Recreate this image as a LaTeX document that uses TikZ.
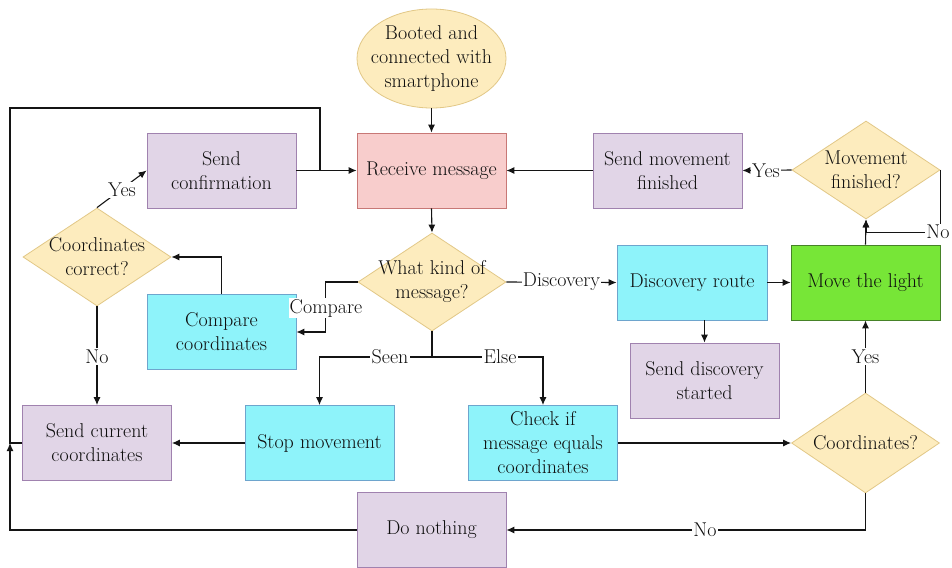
\documentclass[tikz,border=0pt]{standalone}
\usetikzlibrary{shapes.geometric,arrows.meta}
\definecolor{yelF}{RGB}{253,236,190}
\definecolor{yelD}{RGB}{226,200,135}
\definecolor{redF}{RGB}{248,205,204}
\definecolor{redD}{RGB}{200,120,118}
\definecolor{purF}{RGB}{225,213,231}
\definecolor{purD}{RGB}{160,130,175}
\definecolor{cyaF}{RGB}{142,243,250}
\definecolor{cyaD}{RGB}{110,165,205}
\definecolor{grnF}{RGB}{119,230,55}
\definecolor{grnD}{RGB}{70,130,40}
\definecolor{lineC}{RGB}{20,20,20}
\definecolor{txtC}{RGB}{15,15,15}
\begin{document}
\begin{tikzpicture}[x=1pt,y=-1pt,
  font=\fontsize{20}{24}\selectfont, text=txtC,
  box/.style={rectangle, minimum width=149pt, minimum height=75pt, inner sep=0pt, align=center, line width=0.8pt},
  purp/.style={box, fill=purF, draw=purD},
  cyan/.style={box, fill=cyaF, draw=cyaD},
  redb/.style={box, fill=redF, draw=redD},
  grnb/.style={box, fill=grnF, draw=grnD},
  dia/.style={diamond, minimum width=148pt, minimum height=98pt, inner sep=0pt, fill=yelF, draw=yelD, line width=0.8pt},
  ell/.style={ellipse, minimum width=149pt, minimum height=99pt, inner sep=0pt, fill=yelF, draw=yelD, line width=0.8pt},
  txt/.style={align=center, inner sep=0pt},
  arr/.style={-{Latex[length=8pt,width=7pt]}, line width=1.1pt, draw=lineC},
  ln/.style={line width=1.1pt, draw=lineC},
  lab/.style={fill=white, inner sep=1.2pt}]
\useasboundingbox[fill=white] (0,0) rectangle (952,567);

% shapes
\node[ell] (boot) at (431.5,58.5) {};
\node[txt] (boott) at (boot) {Booted and\\connected with\\smartphone};
\node[redb] (rm) at (431.5,170.5) {Receive message};
\node[purp] (sc) at (221.5,170.5) {Send\\confirmation};
\node[purp] (smf) at (667.5,170.5) {Send movement\\finished};
\node[dia] (mf) at (866,170) {};
\node[txt] (mft) at (mf) {Movement\\finished?};
\node[dia] (cok) at (97,257) {};
\node[txt] (cokt) at (cok) {Coordinates\\correct?};
\node[dia] (wk) at (432,282) {};
\node[txt] (wkt) at (wk) {What kind of\\message?};
\node[cyan, minimum width=150pt] (dr) at (692,282.5) {Discovery route};
\node[grnb] (ml) at (865.5,282.5) {Move the light};
\node[cyan] (cc) at (221.5,332) {Compare\\coordinates};
\node[purp] (dst) at (704.5,380.5) {Send discovery\\started};
\node[purp] (scc) at (97,443) {Send current\\coordinates};
\node[cyan] (sm) at (319.5,443) {Stop movement};
\node[cyan] (ci) at (543,443) {Check if\\message equals\\coordinates};
\node[dia, minimum height=100pt] (co) at (865.5,443) {};
\node[txt] (cot) at (co) {Coordinates?};
\node[purp] (dn) at (431.5,530) {Do nothing};

% helper coordinates
\coordinate (mfno) at (866,232.5);
\coordinate (wkj) at (432,357);
\coordinate (lm) at (10,443);
\coordinate (ltop) at (10,108);
\coordinate (tj) at (320,170.5);

% connectors
\draw[arr] (boot.south) -- (rm.north);
\draw[arr] (rm.south) -- (wk.north);
\draw[arr] (smf.west) -- (rm.east);
\draw[arr] (mf.west) -- (smf.east);
\draw[arr] (ml.north) -- (mf.south);
\draw[arr] (mf.east) |- (mfno) -- (mf.south);
\draw[arr] (wk.east) -- (dr.west);
\draw[arr] (dr.east) -- (ml.west);
\draw[arr] (dr.south -| dst.north) -- (dst.north);
\draw[arr] (wk.west) -- ++(-32,0) |- (cc.east);
\draw[arr] (cc.north) |- (cok.east);
\draw[arr] (cok.north) -- (sc.west);
\draw[arr] (cok.south) -- (scc.north);
\draw[arr] (wk.south) -- (wkj) -| (sm.north);
\draw[arr] (wkj) -| (ci.north);
\draw[arr] (sm.west) -- (scc.east);
\draw[arr] (ci.east) -- (co.west);
\draw[arr] (co.north) -- (ml.south);
\draw[arr] (co.south) |- (dn.east);
\draw[arr] (dn.west) -| (lm);
\draw[ln] (scc.west) -- (lm) -- (ltop) -| (tj);
\draw[arr] (sc.east) -- (rm.west);

% edge labels
\node[lab] (lyes1) at (766,170.5) {Yes};
\node[lab] (lno1) at (938,232) {No};
\node[lab] (ldisc) at (561.5,282) {Discovery};
\node[lab] (lcmp) at (326,308) {Compare};
\node[lab] (lyes2) at (122,190) {Yes};
\node[lab] (lno2) at (97,356.5) {No};
\node[lab] (lseen) at (390,357) {Seen};
\node[lab] (lelse) at (500,357) {Else};
\node[lab] (lyes3) at (865.5,356.5) {Yes};
\node[lab] (lno3) at (705,530) {No};
\end{tikzpicture}
\end{document}
